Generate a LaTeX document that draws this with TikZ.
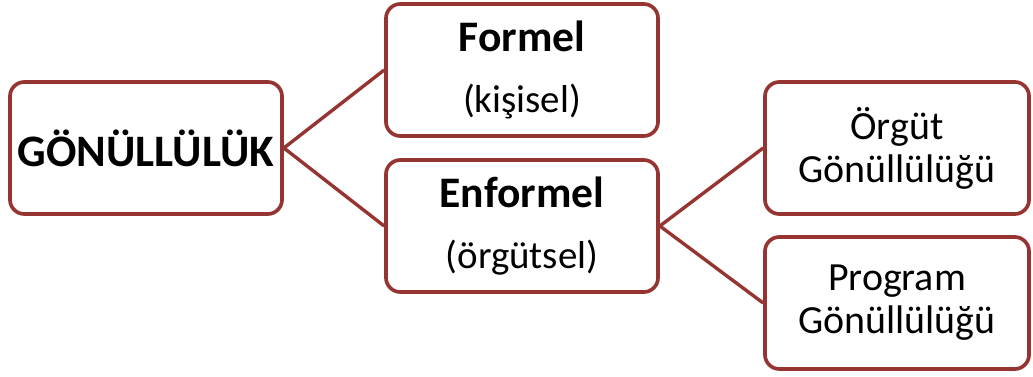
\documentclass[tikz,border=0pt]{standalone}
\usepackage{fontspec}
\setmainfont{Carlito}
\begin{document}
\begin{tikzpicture}[x=0.025cm, y=-0.025cm,
    box/.style={draw=myred, line width=2.6pt, rounded corners=0.36cm, fill=white, align=center, inner sep=0pt},
    bigbox/.style={box, minimum width=6.8cm, minimum height=3.3cm, font=\fontsize{31}{43.5}\selectfont},
    smallbox/.style={box, minimum width=6.6cm, minimum height=3.3cm, font=\fontsize{28.4}{30.6}\selectfont},
    link/.style={draw=myred, line width=2.4pt},
  ]

\definecolor{myred}{RGB}{150, 52, 50}
\useasboundingbox (0,0) rectangle (1033,376);

%boxes
\node[bigbox] (gonul) at (146,148) {\fontsize{32}{36}\selectfont\bfseries GÖNÜLLÜLÜK};
\node[bigbox] (formel) at (522,70) {\textbf{Formel}\\ {\fontsize{27.7}{30}\selectfont (kişisel)}};
\node[bigbox] (enformel) at (522,226) {\textbf{Enformel}\\ {\fontsize{27.7}{30}\selectfont (örgütsel)}};
\node[smallbox] (orgut) at (897,148) {Örgüt\\Gönüllülüğü};
\node[smallbox] (program) at (897,303) {Program\\Gönüllülüğü};

%links
\draw[link] (formel.west) -- (gonul.east) -- (enformel.west);
\draw[link] (orgut.west) -- (enformel.east) -- (program.west);

\end{tikzpicture}
\end{document}
